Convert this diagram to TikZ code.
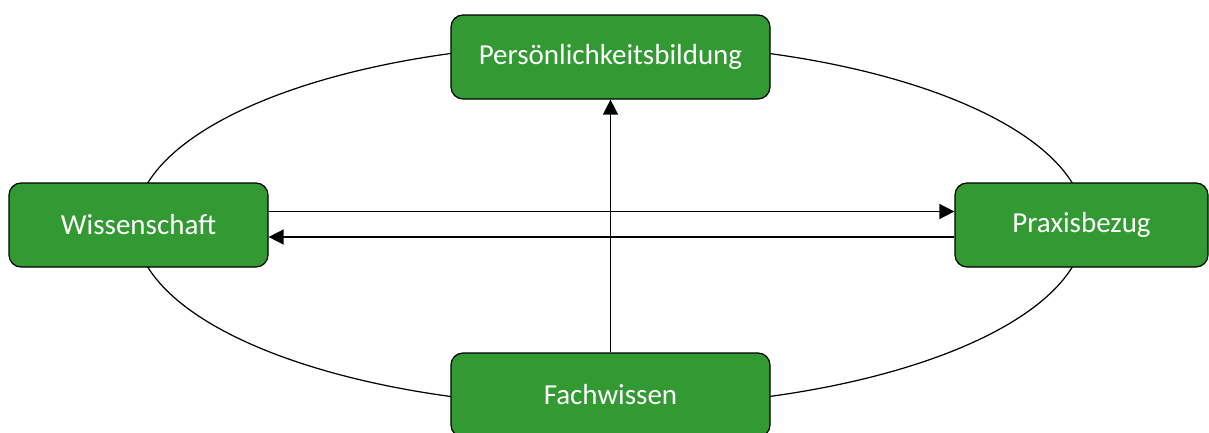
\documentclass[tikz,border=0pt]{standalone}
\usepackage{fontspec}
\setmainfont{Carlito}
\usetikzlibrary{arrows.meta}

\definecolor{feldgruen}{RGB}{51,153,51}
\tikzset{
  feld/.style={draw=black, fill=feldgruen, rounded corners=0.24cm, line width=0.7pt,
    minimum height=1.68cm, text=white, font=\fontsize{16.5}{18}\selectfont},
  pfeil/.style={line width=0.9pt, -{Triangle[length=0.3cm,width=0.3cm]}}
}

\begin{document}
\begin{tikzpicture}

\useasboundingbox (0,0) rectangle (24.18,-8.66);
\clip (0,0) rectangle (24.18,-8.66);

\draw [black, line width=0.7pt] (12.2,-4.5) ellipse (9.5cm and 3.64cm);

\node[feld, minimum width=6.38cm] (bildung) at (12.21,-1.14) {Persönlichkeitsbildung};

\node[feld, minimum width=5.18cm] (wissenschaft) at (2.77,-4.5) {Wissenschaft};

\node[feld, minimum width=5.06cm] (praxis) at (21.63,-4.5) {Praxisbezug};

\node[feld, minimum width=6.38cm] (fach) at (12.21,-7.9) {Fachwissen};

\draw [pfeil] (fach.north) -- (bildung.south);

\draw [pfeil] ([yshift=0.27cm]wissenschaft.east) -- ([yshift=0.27cm]praxis.west);

\draw [pfeil] ([yshift=-0.24cm]praxis.west) -- ([yshift=-0.24cm]wissenschaft.east);

\end{tikzpicture}
\end{document}
